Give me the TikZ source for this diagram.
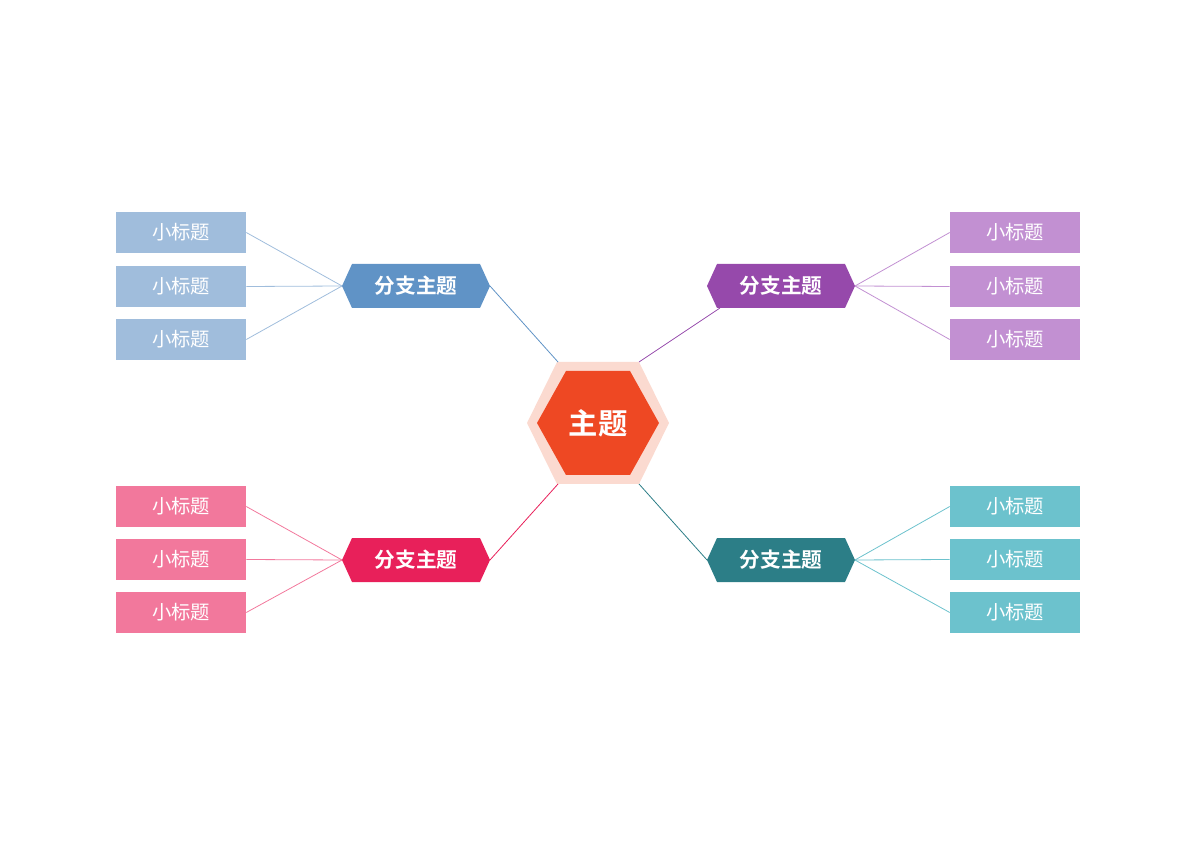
\documentclass[tikz,border=0pt]{standalone}
\usepackage{fontspec}
\newfontfamily\cjk{Noto Sans CJK SC}
\newfontfamily\cjkb{Noto Sans CJK SC Bold}
\definecolor{cmain}{HTML}{EE4823}\definecolor{cglow}{HTML}{FBDAD0}
\definecolor{cb}{HTML}{6093C6}\definecolor{cbl}{HTML}{A0BDDC}
\definecolor{cp}{HTML}{9649AB}\definecolor{cpl}{HTML}{C290D2}
\definecolor{cr}{HTML}{E8205A}\definecolor{crl}{HTML}{F2789C}
\definecolor{ct}{HTML}{2C7E87}\definecolor{ctl}{HTML}{6CC2CD}
\begin{document}
\begin{tikzpicture}[x=0.75pt,y=-0.75pt,
 leaf/.style={minimum width=97.5pt,minimum height=30.75pt,inner sep=0pt,text=white,font=\cjk\fontsize{14.5}{16}\selectfont}]
\useasboundingbox (0,0) rectangle (1200,848);
% center
\fill[cglow] (527,423)--(557,362)--(639,362)--(669,423)--(639,484)--(557,484)--cycle;
\fill[cmain] (537,423)--(566,371)--(630,371)--(659,423)--(630,475)--(566,475)--cycle;
\node[text=white,font=\cjkb\fontsize{22}{24}\selectfont] (c) at (598,423) {主题};
\coordinate (ctl) at (558,362);\coordinate (ctr) at (639,362);
\coordinate (cbl) at (558,484);\coordinate (cbr) at (639,484);
% branches
\foreach \n/\x/\y/\col in {bA/416/286/cb,bB/781/286/cp,bC/416/560/cr,bD/781/560/ct}{
 \fill[\col] (\x-74,\y)--(\x-64,\y-22)--(\x+64,\y-22)--(\x+74,\y)--(\x+64,\y+22)--(\x-64,\y+22)--cycle;
 \node[text=white,font=\cjkb\fontsize{15.5}{17}\selectfont] (\n) at (\x,\y) {分支主题};
 \coordinate (\n L) at (\x-74,\y); \coordinate (\n R) at (\x+74,\y);
}
\draw[cb,line width=0.6pt] (bAR)--(ctl);
\draw[cp,line width=0.6pt] (ctr)--(720,308);
\draw[cr,line width=0.6pt] (bCR)--(cbl);
\draw[ct,line width=0.6pt] (cbr)--(bDL);
% leaves
\foreach \i/\y in {1/232.5,2/286.5,3/339.5}{
 \node[leaf,fill=cbl] (a\i) at (181,\y) {小标题};
 \draw[cbl,line width=0.6pt] (a\i.east)--(bAL);
 \node[leaf,fill=cpl] (p\i) at (1015,\y) {小标题};
 \draw[cpl,line width=0.6pt] (p\i.west)--(bBR);
}
\foreach \i/\y in {1/506.5,2/559.5,3/612.5}{
 \node[leaf,fill=crl] (r\i) at (181,\y) {小标题};
 \draw[crl,line width=0.6pt] (r\i.east)--(bCL);
 \node[leaf,fill=ctl] (t\i) at (1015,\y) {小标题};
 \draw[ctl,line width=0.6pt] (t\i.west)--(bDR);
}
\end{tikzpicture}
\end{document}
